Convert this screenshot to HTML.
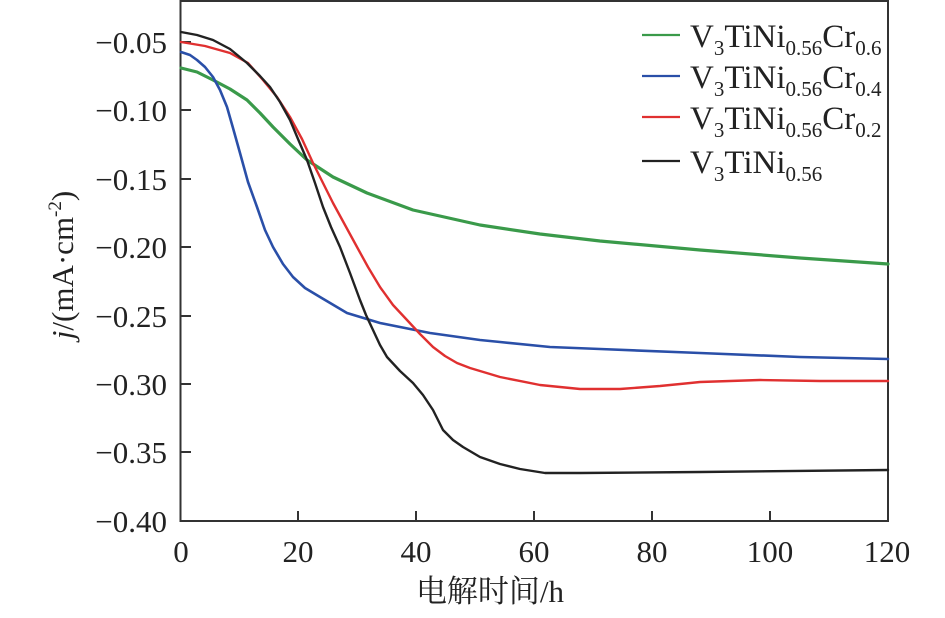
<!DOCTYPE html>
<html><head><meta charset="utf-8"><style>
body{margin:0;background:#fff}
svg text{font-family:"Liberation Serif","Noto Serif CJK SC",serif;fill:#222}
</style></head><body>
<svg width="945" height="613" viewBox="0 0 945 613" xmlns="http://www.w3.org/2000/svg">
<rect x="180.5" y="1" width="707.5" height="520" fill="none" stroke="#333" stroke-width="2"/>
<g stroke="#333" stroke-width="2">
<line x1="181" y1="42" x2="191" y2="42"/><line x1="181" y1="110" x2="191" y2="110"/>
<line x1="181" y1="179" x2="191" y2="179"/><line x1="181" y1="247" x2="191" y2="247"/>
<line x1="181" y1="316" x2="191" y2="316"/><line x1="181" y1="384" x2="191" y2="384"/>
<line x1="181" y1="452" x2="191" y2="452"/>
<line x1="298" y1="521" x2="298" y2="511"/><line x1="416" y1="521" x2="416" y2="511"/>
<line x1="534" y1="521" x2="534" y2="511"/><line x1="652" y1="521" x2="652" y2="511"/>
<line x1="770" y1="521" x2="770" y2="511"/>
</g>
<g font-size="31" text-anchor="end">
<text x="167" y="53">−0.05</text><text x="167" y="121">−0.10</text>
<text x="167" y="190">−0.15</text><text x="167" y="258">−0.20</text>
<text x="167" y="327">−0.25</text><text x="167" y="395">−0.30</text>
<text x="167" y="463">−0.35</text><text x="167" y="532">−0.40</text>
</g>
<g font-size="31" text-anchor="middle">
<text x="181" y="562">0</text><text x="298" y="562">20</text><text x="416" y="562">40</text>
<text x="534" y="562">60</text><text x="652" y="562">80</text><text x="770" y="562">100</text>
<text x="887" y="562">120</text>
</g>
<text x="490" y="602" font-size="31" text-anchor="middle">电解时间/h</text>
<text transform="translate(73,265) rotate(-90)" font-size="31" text-anchor="middle"><tspan font-style="italic">j</tspan>/(mA·cm<tspan font-size="19" dy="-12">-2</tspan><tspan dy="12">)</tspan></text>
<g fill="none" stroke-linejoin="round" stroke-linecap="round">
<polyline stroke="#3a9a4a" stroke-width="3.2" points="181,68 197,72 213,80 230,89 247,100 260,113 273,127 290,144 307,160 333,177 367,193 413,210 480,225 540,234 600,241 700,250 800,258 888,264"/>
<polyline stroke="#2a4fa8" stroke-width="2.6" points="181,52 190,55 197,60 205,67 213,77 220,90 227,107 233,128 240,153 248,182 257,207 265,230 273,247 283,264 293,277 305,288 320,297 347,313 380,323 430,333 480,340 500,342 550,347 600,349 700,353 800,357 888,359"/>
<polyline stroke="#e03030" stroke-width="2.4" points="181,42 205,46 230,53 248,63 263,80 277,97 290,117 302,139 313,163 323,183 333,203 345,225 357,247 368,267 380,287 393,305 407,320 420,334 433,347 445,356 457,363 470,368 480,371 500,377 540,385 580,389 620,389 660,386 700,382 760,380 820,381 888,381"/>
<polyline stroke="#222" stroke-width="2.4" points="181,32 197,35 213,40 230,49 247,63 260,76 270,87 280,102 290,120 298,139 307,160 315,183 323,207 331,227 340,247 350,273 360,300 366,315 373,330 380,345 387,357 400,371 413,383 423,395 433,410 438,420 443,430 453,440 463,447 480,457 500,464 520,469 545,473 580,473 700,472 888,470"/>
</g>
<g stroke-width="2.2">
<line x1="642" y1="35" x2="680" y2="35" stroke="#3a9a4a"/>
<line x1="642" y1="76" x2="680" y2="76" stroke="#2a4fa8"/>
<line x1="642" y1="117" x2="680" y2="117" stroke="#e03030"/>
<line x1="642" y1="161" x2="680" y2="161" stroke="#222"/>
</g>
<g font-size="33">
<text x="690" y="47">V<tspan font-size="21" dy="8">3</tspan><tspan dy="-8">TiNi</tspan><tspan font-size="21" dy="8">0.56</tspan><tspan dy="-8">Cr</tspan><tspan font-size="21" dy="8">0.6</tspan></text>
<text x="690" y="88">V<tspan font-size="21" dy="8">3</tspan><tspan dy="-8">TiNi</tspan><tspan font-size="21" dy="8">0.56</tspan><tspan dy="-8">Cr</tspan><tspan font-size="21" dy="8">0.4</tspan></text>
<text x="690" y="129">V<tspan font-size="21" dy="8">3</tspan><tspan dy="-8">TiNi</tspan><tspan font-size="21" dy="8">0.56</tspan><tspan dy="-8">Cr</tspan><tspan font-size="21" dy="8">0.2</tspan></text>
<text x="690" y="173">V<tspan font-size="21" dy="8">3</tspan><tspan dy="-8">TiNi</tspan><tspan font-size="21" dy="8">0.56</tspan></text>
</g>
</svg>
</body></html>
